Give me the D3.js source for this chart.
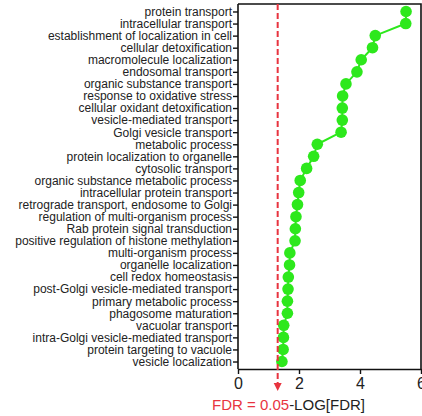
<!DOCTYPE html>
<html>
<head>
<meta charset="utf-8">
<script src="https://cdn.jsdelivr.net/npm/d3@7"></script>
<style>
  body { margin: 0; background: #fff; }
  svg { display: block; font-family: "Liberation Sans", Arial, sans-serif; }
</style>
</head>
<body>
<div id="chart"></div>
<script>
// GO terms, top to bottom
var terms = [
  "protein transport", "intracellular transport", "establishment of localization in cell",
  "cellular detoxification", "macromolecule localization", "endosomal transport",
  "organic substance transport", "response to oxidative stress", "cellular oxidant detoxification",
  "vesicle-mediated transport", "Golgi vesicle transport", "metabolic process",
  "protein localization to organelle", "cytosolic transport", "organic substance metabolic process",
  "intracellular protein transport", "retrograde transport, endosome to Golgi",
  "regulation of multi-organism process", "Rab protein signal transduction",
  "positive regulation of histone methylation", "multi-organism process", "organelle localization",
  "cell redox homeostasis", "post-Golgi vesicle-mediated transport", "primary metabolic process",
  "phagosome maturation", "vacuolar transport", "intra-Golgi vesicle-mediated transport",
  "protein targeting to vacuole", "vesicle localization"
];

// -log10(FDR)
var logFdr = [
  5.51, 5.50, 4.50, 4.41, 4.04, 3.90, 3.54, 3.43, 3.42, 3.42,
  3.38, 2.60, 2.48, 2.25, 2.04, 1.99, 1.95, 1.90, 1.88, 1.87,
  1.70, 1.69, 1.65, 1.64, 1.62, 1.62, 1.50, 1.49, 1.48, 1.44
];

var xTicks = [0, 2, 4, 6];
var cutoff = -Math.log10(0.05);

function drawChart() {
  var width = 422, height = 416;
  var plotLeft = 238, plotRight = 421, plotTop = 4, plotBottom = 369;

  var svg = d3.select("#chart").append("svg")
    .attr("width", width)
    .attr("height", height);

  var x = d3.scaleLinear().domain([0, 6]).range([plotLeft, plotRight]);
  var y = d3.scalePoint().domain(terms).range([plotTop, plotBottom]).padding(0.62);

  // frame top and right
  svg.append("path")
    .attr("d", "M" + plotLeft + "," + plotTop + "H" + plotRight + "V" + plotBottom)
    .style("fill", "none")
    .style("stroke", "#111")
    .style("stroke-width", "1.6px");

  // y axis
  var gy = svg.append("g")
    .attr("transform", "translate(" + plotLeft + ",0)")
    .call(d3.axisLeft(y).tickSize(5).tickSizeOuter(0).tickPadding(1));
  gy.select(".domain").attr("d", "M0," + plotTop + "V" + plotBottom).style("stroke", "#111").style("stroke-width", "1.6px");
  gy.selectAll(".tick line").style("stroke", "#111").style("stroke-width", "1.4px");
  gy.selectAll(".tick text").style("font-size", "12px").style("fill", "#222");
  gy.attr("font-family", null);

  // x axis
  var gx = svg.append("g")
    .attr("transform", "translate(0," + plotBottom + ")")
    .call(d3.axisBottom(x).tickValues(xTicks).tickFormat(d3.format("d")).tickSize(5).tickSizeOuter(0).tickPadding(4));
  gx.select(".domain").style("stroke", "#111").style("stroke-width", "1.6px");
  gx.selectAll(".tick line").style("stroke", "#111").style("stroke-width", "1.4px");
  gx.selectAll(".tick text").style("font-size", "16px").style("fill", "#222");
  gx.attr("font-family", null);

  // line + markers
  var pts = terms.map(function(t, i) { return {term: t, value: logFdr[i]}; });

  svg.append("path")
    .datum(pts)
    .attr("d", d3.line().x(function(d) { return x(d.value); }).y(function(d) { return y(d.term); }))
    .style("fill", "none")
    .style("stroke", "#2de81c")
    .style("stroke-width", "2px");

  svg.selectAll(".dot")
    .data(pts)
    .enter().append("circle")
    .attr("class", "dot")
    .attr("cx", function(d) { return x(d.value); })
    .attr("cy", function(d) { return y(d.term); })
    .attr("r", 5.8)
    .style("fill", "#2de81c");

  // FDR = 0.05 cutoff line with arrow
  var red = "#e8343f";
  svg.append("line")
    .attr("x1", x(cutoff)).attr("x2", x(cutoff))
    .attr("y1", plotTop).attr("y2", 385)
    .style("stroke", red)
    .style("stroke-width", "2px")
    .style("stroke-dasharray", "6,3");

  svg.append("path")
    .attr("d", "M" + (x(cutoff) - 4) + ",383L" + (x(cutoff) + 4) + ",383L" + x(cutoff) + ",391Z")
    .style("fill", red);

  // x axis title
  var title = svg.append("text")
    .attr("x", 212)
    .attr("y", 410)
    .style("font-size", "15px");
  title.append("tspan").style("fill", red).text("FDR = 0.05");
  title.append("tspan").style("fill", "#222").text("-LOG[FDR]");
}

drawChart();
</script>
</body>
</html>
